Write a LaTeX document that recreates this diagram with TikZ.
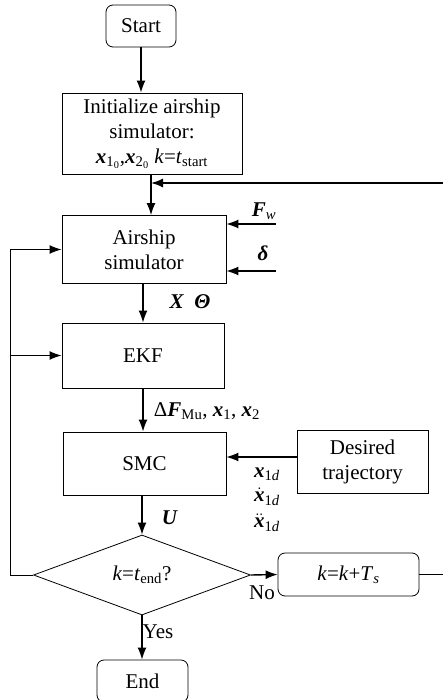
\documentclass[tikz,border=0pt]{standalone}
\usepackage{fontspec}
\setmainfont{Liberation Serif}
\usetikzlibrary{arrows.meta,calc,positioning,shapes.geometric}
\newcommand{\bv}[1]{\textbf{\textit{#1}}}
\tikzstyle{block}=[
  draw=black,
  line width=0.8pt,
  rectangle,
  inner sep=0pt,
  align=center,
  font={\fontsize{21}{25}\selectfont},
]
\tikzstyle{terminal}=[
  block,
  rounded corners=7pt,
]
\tikzstyle{decision}=[
  block,
  diamond,
  aspect=2.7,
]
\tikzstyle{arrow}=[
  ->,
  line width=1.4pt,
]
\tikzstyle{wire}=[
  line width=0.8pt,
]
\tikzstyle{arrowlabel}=[
  font={\fontsize{21}{24}\selectfont},
  inner sep=0pt,
]
\tikzset{
  >={Latex[length=12pt,width=9pt]},
  x=1pt, y=-1pt,
}
\begin{document}
\begin{tikzpicture}
    \useasboundingbox (0,0) rectangle (443,700);
    \node (start) [terminal, minimum width=70pt, minimum height=42pt] at (141,26) {Start};
    \node (init) [block, minimum width=180pt, minimum height=81pt] at (152,133.5)
      {Initialize airship\\simulator:\\\bv{x}\textsubscript{1\textsubscript{0}},\bv{x}\textsubscript{2\textsubscript{0}} \textit{k}=\textit{t}\textsubscript{start}};
    \node (airship) [block, minimum width=164pt, minimum height=68pt] at (144,249.5) {Airship\\simulator};
    \node (ekf) [block, minimum width=162pt, minimum height=65pt] at (143,355.5) {EKF};
    \node (smc) [block, minimum width=163pt, minimum height=63pt] at (144.5,463.5) {SMC};
    \node (desired) [block, minimum width=131pt, minimum height=63pt] at (362.5,461.5) {Desired\\trajectory};
    \node (check) [decision, minimum width=217pt, minimum height=80pt] at (142,575) {\textit{k}=\textit{t}\textsubscript{end}?};
    \node (step) [terminal, minimum width=141pt, minimum height=43pt] at (348.5,574.5) {\textit{k}=\textit{k}+\textit{T}\textsubscript{\textit{s}}};
    \node (end) [terminal, minimum width=91pt, minimum height=42pt] at (142.5,681) {End};
    %%
    \coordinate (fb) at (151,183);
    \coordinate (ret) at (446,574.5);
    \coordinate (fw) at (276,224);
    \coordinate (dl) at (276,271);
    \coordinate (loop) at (10,575);
    %%
    \draw [arrow] (start) -- (start |- init.north);
    \draw [arrow] (init.south -| fb) -- (airship.north -| fb);
    \draw [arrow] (ret) |- (fb);
    \draw [wire] (step.east) -- (ret);
    \draw [arrow] (fw) -- (airship.east |- fw);
    \draw [arrow] (dl) -- (airship.east |- dl);
    \draw [arrow] (airship.south -| ekf) -- (ekf);
    \draw [arrow] (ekf) -- (ekf.south |- smc.north);
    \draw [arrow] ($(desired.west)+(0,-4.5)$) -- ($(smc.east)+(0,-6.5)$);
    \draw [arrow] (smc.south -| check) -- (check.north);
    \draw [arrow] (check.east) -- (step.west);
    \draw [arrow] (check.south) -- (end.north -| check.south);
    \draw [wire] (check.west) -- (loop) -- (loop |- airship);
    \draw [arrow] (loop |- airship) -- (airship.west);
    \draw [arrow] (loop |- ekf) -- (ekf.west);
    %%
    \node (fwlabel) [arrowlabel] at (264,211) {\bv{F}\textsubscript{\textit{w}}};
    \node (dllabel) [arrowlabel] at (263,253) {\bv{δ}};
    \node (xlabel) [arrowlabel] at (190,302) {\bv{X}\ \ \bv{Θ}};
    \node (flabel) [arrowlabel] at (207,411) {Δ\bv{F}\textsubscript{Mu}, \bv{x}\textsubscript{1}, \bv{x}\textsubscript{2}};
    \node (xd) [arrowlabel] at (267,474) {\bv{x}\textsubscript{1\textit{d}}};
    \node (xdot) [arrowlabel] at (267,500) {\smash{$\dot{\mbox{\bv{x}}}$}\textsubscript{1\textit{d}}};
    \node (xddot) [arrowlabel] at (267,526) {\smash{$\ddot{\mbox{\bv{x}}}$}\textsubscript{1\textit{d}}};
    \node (ulabel) [arrowlabel] at (170,518) {\bv{U}};
    \node (nolabel) [arrowlabel] at (262,593) {No};
    \node (yeslabel) [arrowlabel] at (158,632) {Yes};
\end{tikzpicture}
\end{document}
